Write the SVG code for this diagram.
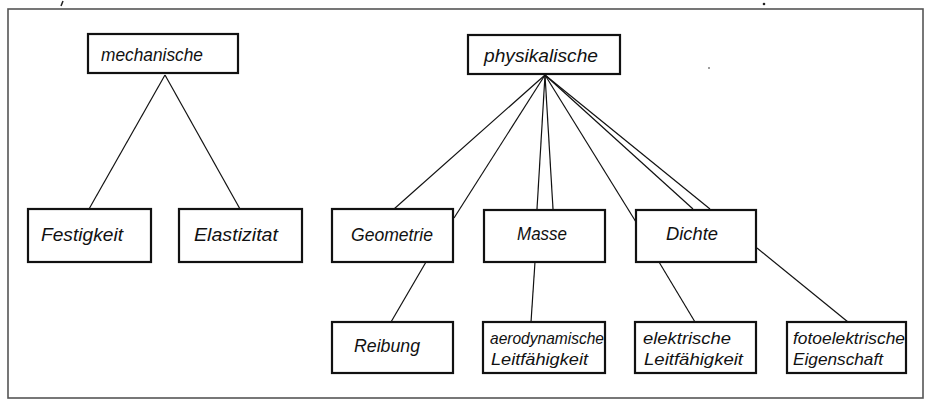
<svg xmlns="http://www.w3.org/2000/svg" width="926" height="400" viewBox="0 0 926 400">
<style>
.box{fill:#fff;stroke:#111;stroke-width:2.2}
.t{font-family:"Liberation Sans","DejaVu Sans",sans-serif;font-style:italic;fill:#111}
.big{font-size:19px}
.small{font-size:17px}
.c line{stroke:#111;stroke-width:1.2;fill:none}
.spec{fill:#222}
</style>
<rect x="0" y="0" width="926" height="400" fill="#fff"/>
<rect x="8" y="9" width="915" height="389" fill="none" stroke="#555" stroke-width="1.6"/>
<path d="M63 1 L61 6" stroke="#222" stroke-width="1.5" fill="none"/>
<circle class="spec" cx="764" cy="4" r="1.3"/>
<circle class="spec" cx="709" cy="68" r="0.8"/>
<g class="c" id="connectors">
<line x1="165" y1="75" x2="89" y2="209"/>
<line x1="165" y1="75" x2="240" y2="209"/>
<line x1="545" y1="75" x2="394" y2="209"/>
<line x1="545" y1="75" x2="454" y2="218"/>
<line x1="545" y1="75" x2="537" y2="209"/>
<line x1="545" y1="75" x2="553" y2="209"/>
<line x1="545" y1="75" x2="636" y2="222"/>
<line x1="545" y1="75" x2="693" y2="209"/>
<line x1="545" y1="75" x2="710" y2="209"/>
<line x1="426" y1="262" x2="391" y2="322"/>
<line x1="535" y1="262" x2="531" y2="322"/>
<line x1="659" y1="262" x2="695" y2="322"/>
<line x1="757" y1="248" x2="848" y2="322"/>
</g>
<g id="mechanische"><rect class="box" x="88" y="34" width="150" height="39"/><text class="t big" x="101" y="61" textLength="102" lengthAdjust="spacingAndGlyphs">mechanische</text></g>
<g id="physikalische"><rect class="box" x="468" y="35" width="152" height="39"/><text class="t big" x="484" y="62" textLength="114" lengthAdjust="spacingAndGlyphs">physikalische</text></g>
<g id="festigkeit"><rect class="box" x="28" y="209" width="123" height="53"/><text class="t big" x="41" y="241" textLength="82" lengthAdjust="spacingAndGlyphs">Festigkeit</text></g>
<g id="elastizitat"><rect class="box" x="179" y="209" width="123" height="53"/><text class="t big" x="194" y="241" textLength="84" lengthAdjust="spacingAndGlyphs">Elastizitat</text></g>
<g id="geometrie"><rect class="box" x="332" y="209" width="121" height="53"/><text class="t big" x="351" y="241" textLength="82" lengthAdjust="spacingAndGlyphs">Geometrie</text></g>
<g id="masse"><rect class="box" x="484" y="210" width="121" height="52"/><text class="t big" x="517" y="240" textLength="50" lengthAdjust="spacingAndGlyphs">Masse</text></g>
<g id="dichte"><rect class="box" x="636" y="210" width="120" height="52"/><text class="t big" x="666" y="240" textLength="52" lengthAdjust="spacingAndGlyphs">Dichte</text></g>
<g id="reibung"><rect class="box" x="332" y="322" width="121" height="51"/><text class="t big" x="354" y="352" textLength="66" lengthAdjust="spacingAndGlyphs">Reibung</text></g>
<g id="aerodynamische"><rect class="box" x="483" y="322" width="122" height="51"/><text class="t small" x="490" y="344" textLength="114" lengthAdjust="spacingAndGlyphs">aerodynamische</text><text class="t small" x="491" y="365" textLength="97" lengthAdjust="spacingAndGlyphs">Leitfähigkeit</text></g>
<g id="elektrische"><rect class="box" x="635" y="322" width="121" height="51"/><text class="t small" x="643" y="344" textLength="88" lengthAdjust="spacingAndGlyphs">elektrische</text><text class="t small" x="644" y="365" textLength="99" lengthAdjust="spacingAndGlyphs">Leitfähigkeit</text></g>
<g id="fotoelektrische"><rect class="box" x="787" y="322" width="119" height="51"/><text class="t small" x="793" y="344" textLength="112" lengthAdjust="spacingAndGlyphs">fotoelektrische</text><text class="t small" x="793" y="365" textLength="90" lengthAdjust="spacingAndGlyphs">Eigenschaft</text></g>
</svg>
